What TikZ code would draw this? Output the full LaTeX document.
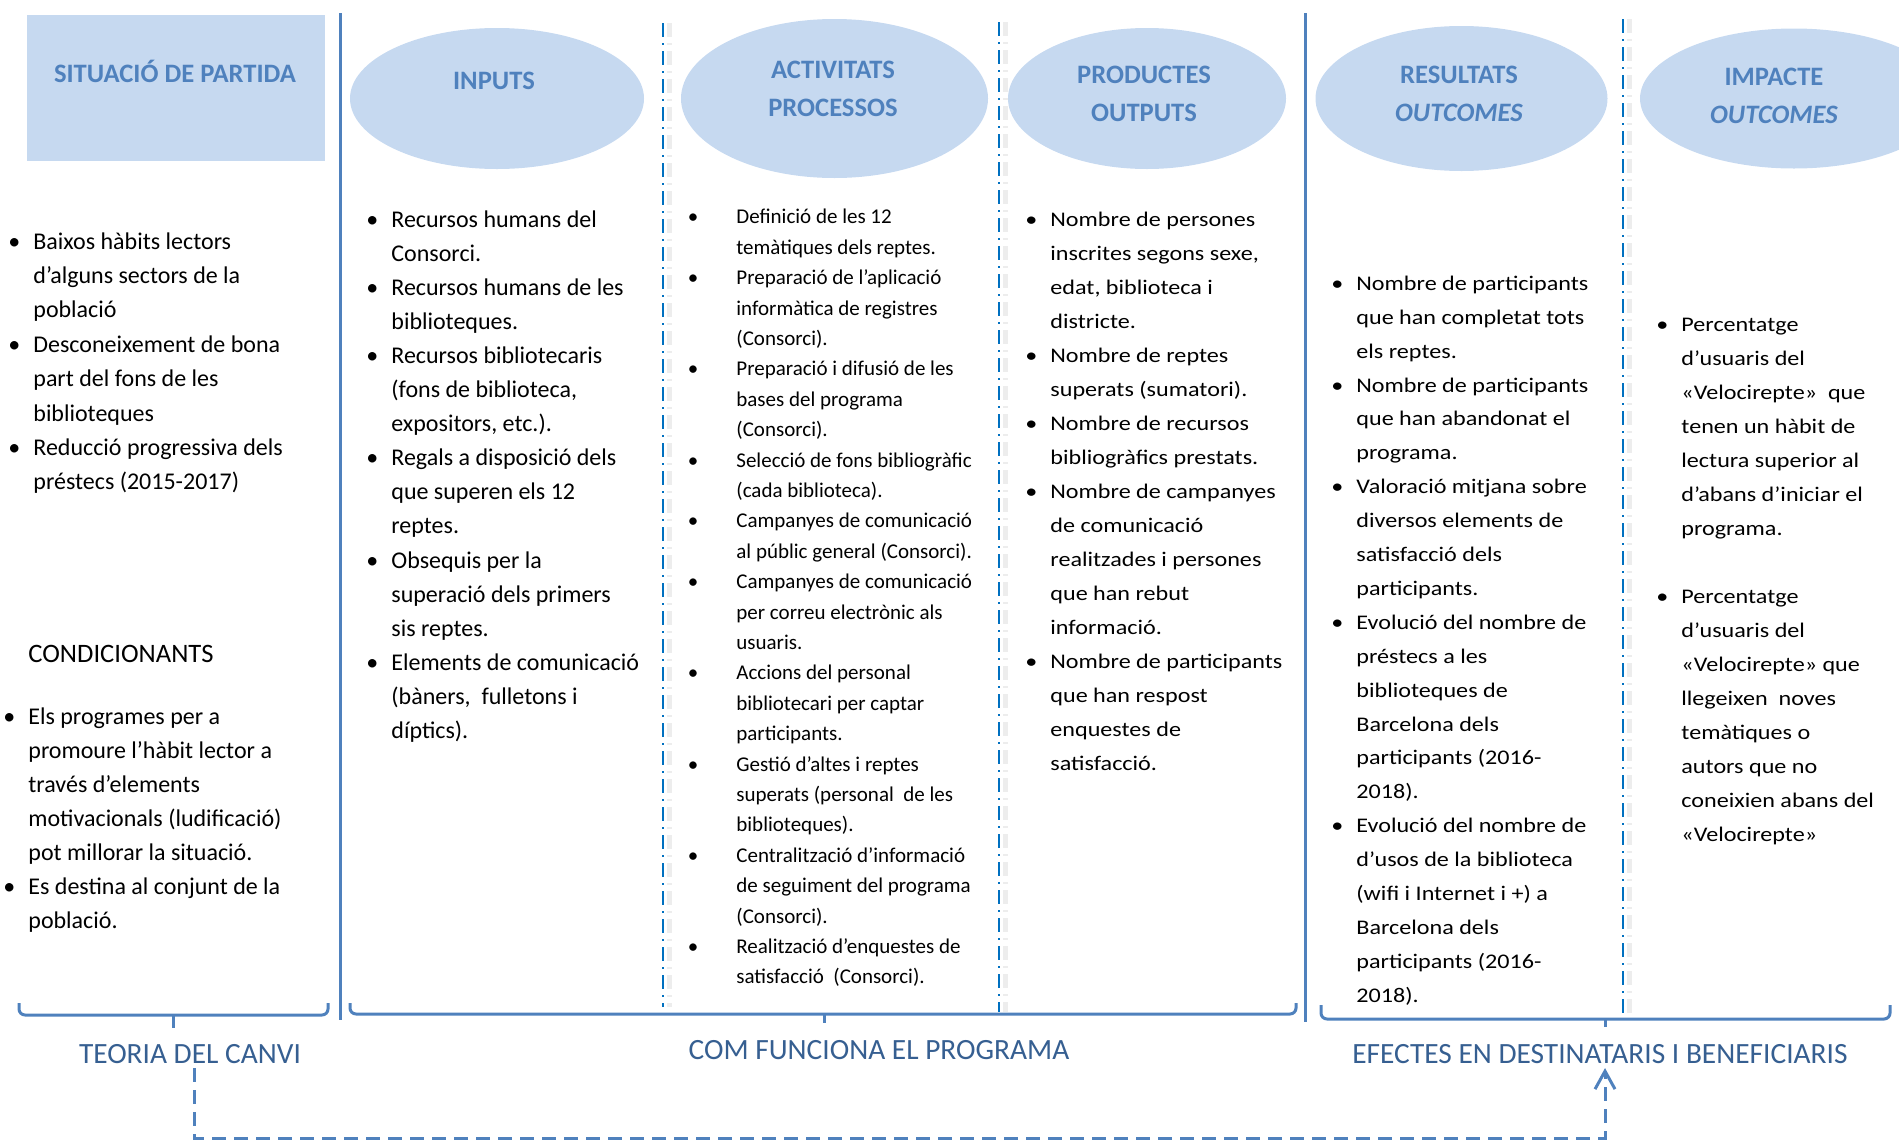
\documentclass[tikz,border=0pt]{standalone}
\usepackage{fontspec}
\setmainfont{Carlito}
\newfontfamily\ampla[FakeStretch=1.16]{Carlito}
\usetikzlibrary{arrows.meta, positioning}

\definecolor{blaufons}{RGB}{198,217,240}
\definecolor{blautext}{RGB}{79,129,189}
\definecolor{blaulinia}{RGB}{79,129,189}
\definecolor{blaupunt}{RGB}{0,112,192}
\definecolor{blaufosc}{RGB}{54,95,145}

\newcommand{\bul}{\llap{\textbullet\hspace{6.5pt}}}
\newcommand{\bulb}{\llap{\textbullet\hspace{19pt}}}

\begin{document}
\begin{tikzpicture}[x=0.5pt, y=-0.5pt,
  capcal/.style={font=\fontsize{13.3}{19}\selectfont\bfseries, text=blautext, align=center, inner sep=0pt},
  llista/.style={anchor=north west, align=left, inner sep=0pt},
  separa/.style={draw=blaulinia, line width=1.5pt},
  puntratlla/.style={draw=blaupunt, line width=1pt, dash pattern=on 7pt off 3pt on 1pt off 3pt},
  ombra/.style={draw=black!7, line width=2.5pt, dash pattern=on 7pt off 3pt on 1pt off 3pt},
  clau/.style={draw=blaulinia, line width=1.5pt, rounded corners=3pt},
  etiq/.style={font=\fontsize{14.7}{17}\selectfont, text=blaufosc, inner sep=2pt},
  fletxa/.style={draw=blaulinia, line width=1.5pt, dash pattern=on 7pt off 4pt, -{Straight Barb[length=9pt, width=10pt]}}]
  \useasboundingbox (0,0) rectangle (1899,1141);

  % Capçaleres
  \fill[blaufons] (27,15) rectangle (325,161);
  \fill[blaufons] (497,98.5) ellipse [x radius=147, y radius=70.5];
  \fill[blaufons] (834.5,98.5) ellipse [x radius=153.5, y radius=79.5];
  \fill[blaufons] (1147,98.5) ellipse [x radius=139, y radius=70.5];
  \fill[blaufons] (1461.5,98.5) ellipse [x radius=146, y radius=72.5];
  \fill[blaufons] (1794,98.5) ellipse [x radius=154, y radius=70];

  \node[capcal] (situacio) at (175,71) {SITUACIÓ DE PARTIDA};
  \node[capcal] (inputs) at (494,81) {INPUTS};
  \node[capcal] (activitats) at (833,89) {ACTIVITATS\\PROCESSOS};
  \node[capcal] (productes) at (1144,94) {PRODUCTES\\OUTPUTS};
  \node[capcal] (resultats) at (1459,94) {RESULTATS\\\textit{OUTCOMES}};
  \node[capcal] (impacte) at (1774,95.5) {IMPACTE\\\textit{OUTCOMES}};

  % Línies de separació
  \draw[separa] (340,13) -- (340,1020);
  \draw[separa] (1305,13) -- (1305,1022);

  \draw[ombra] (669,23) -- (669,1007);
  \draw[puntratlla] (663,23) -- (663,1007);
  \draw[ombra] (1005,22) -- (1005,1012);
  \draw[puntratlla] (999,22) -- (999,1012);
  \draw[ombra] (1629,19) -- (1629,1015);
  \draw[puntratlla] (1623,19) -- (1623,1015);

  % Situació de partida
  \node[llista, font=\fontsize{12}{17.2}\selectfont] (partida) at (33,232)
    {\bul Baixos hàbits lectors\\ d’alguns sectors de la\\ població\\
     \bul Desconeixement de bona\\ part del fons de les\\ biblioteques\\
     \bul Reducció progressiva dels\\ préstecs (2015-2017)};
  \node[anchor=west, inner sep=0pt, font=\fontsize{13.3}{16}\selectfont] (condicionants) at (28,654) {CONDICIONANTS};
  \node[llista, font=\fontsize{12}{17}\selectfont, below=22pt of condicionants.south west, anchor=north west] (condllista)
    {\bul Els programes per a\\ promoure l’hàbit lector a\\ través d’elements\\ motivacionals (ludificació)\\ pot millorar la situació.\\
     \bul Es destina al conjunt de la\\ població.};

  % Inputs
  \node[llista, font=\fontsize{12}{17.05}\selectfont] (recursos) at (391,210)
    {\bul Recursos humans del\\ Consorci.\\
     \bul Recursos humans de les\\ biblioteques.\\
     \bul Recursos bibliotecaris\\ (fons de biblioteca,\\ expositors, etc.).\\
     \bul Regals a disposició dels\\ que superen els 12\\ reptes.\\
     \bul Obsequis per la\\ superació dels primers\\ sis reptes.\\
     \bul Elements de comunicació\\ (bàners,\ \ fulletons i\\ díptics).};

  % Activitats
  \node[llista, font=\fontsize{10.5}{15.2}\selectfont] (accions) at (736,209)
    {\bulb Definició de les 12\\ temàtiques dels reptes.\\
     \bulb Preparació de l’aplicació\\ informàtica de registres\\ (Consorci).\\
     \bulb Preparació i difusió de les\\ bases del programa\\ (Consorci).\\
     \bulb Selecció de fons bibliogràfic\\ (cada biblioteca).\\
     \bulb Campanyes de comunicació\\ al públic general (Consorci).\\
     \bulb Campanyes de comunicació\\ per correu electrònic als\\ usuaris.\\
     \bulb Accions del personal\\ bibliotecari per captar\\ participants.\\
     \bulb Gestió d’altes i reptes\\ superats (personal\ \ de les\\ biblioteques).\\
     \bulb Centralització d’informació\\ de seguiment del programa\\ (Consorci).\\
     \bulb Realització d’enquestes de\\ satisfacció\ \ (Consorci).};

  % Productes
  \node[llista, font=\ampla\fontsize{10.4}{17}\selectfont] (nombres) at (1050,211.5)
    {\bul Nombre de persones\\ inscrites segons sexe,\\ edat, biblioteca i\\ districte.\\
     \bul Nombre de reptes\\ superats (sumatori).\\
     \bul Nombre de recursos\\ bibliogràfics prestats.\\
     \bul Nombre de campanyes\\ de comunicació\\ realitzades i persones\\ que han rebut\\ informació.\\
     \bul Nombre de participants\\ que han respost\\ enquestes de\\ satisfacció.};

  % Resultats
  \node[llista, font=\ampla\fontsize{10.4}{16.95}\selectfont] (participants) at (1356,275.5)
    {\bul Nombre de participants\\ que han completat tots\\ els reptes.\\
     \bul Nombre de participants\\ que han abandonat el\\ programa.\\
     \bul Valoració mitjana sobre\\ diversos elements de\\ satisfacció dels\\ participants.\\
     \bul Evolució del nombre de\\ préstecs a les\\ biblioteques de\\ Barcelona dels\\ participants (2016-\\ 2018).\\
     \bul Evolució del nombre de\\ d’usos de la biblioteca\\ (wifi i Internet i +) a\\ Barcelona dels\\ participants (2016-\\ 2018).};

  % Impacte
  \node[llista, font=\ampla\fontsize{10.4}{17}\selectfont] (percentatges) at (1681,318)
    {\bul Percentatge\\ d’usuaris del\\ «Velocirepte»\ \ que\\ tenen un hàbit de\\ lectura superior al\\ d’abans d’iniciar el\\ programa.\\[17pt]
     \bul Percentatge\\ d’usuaris del\\ «Velocirepte» que\\ llegeixen\ \ noves\\ temàtiques o\\ autors que no\\ coneixien abans del\\ «Velocirepte»};

  % Claus inferiors
  \draw[clau] (19,1003) -- (19,1015) -- (328,1015) -- (328,1003);
  \draw[clau] (173,1015) -- (173,1028);
  \draw[clau] (350,1003) -- (350,1014) -- (1296,1014) -- (1296,1003);
  \draw[clau] (824,1014) -- (824,1023);
  \draw[clau] (1321,1005) -- (1321,1019) -- (1890,1019) -- (1890,1005);
  \draw[clau] (1605,1019) -- (1605,1027);

  % Etiquetes
  \node[etiq] (teoria) at (190,1054) {TEORIA DEL CANVI};
  \node[etiq] (funciona) at (879,1050) {COM FUNCIONA EL PROGRAMA};
  \node[etiq] (efectes) at (1600,1054) {EFECTES EN DESTINATARIS I BENEFICIARIS};

  % Fletxa discontínua
  \coordinate (baix) at (194,1138);
  \draw[fletxa] ([xshift=2pt]teoria.south) -- (baix) -| ([xshift=2.5pt]efectes.south);
\end{tikzpicture}
\end{document}
